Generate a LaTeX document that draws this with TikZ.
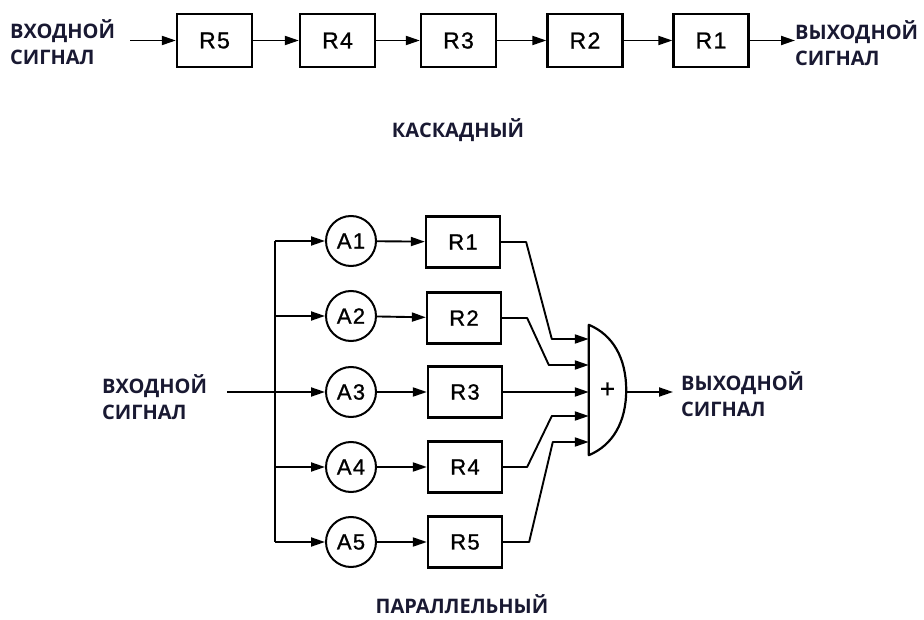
\documentclass[tikz,border=0pt]{standalone}
\usepackage{fontspec}
\setmainfont{Open Sans}
\newfontfamily\labfont[LetterSpace=6,FakeBold=1]{Liberation Sans}
\usetikzlibrary{arrows.meta,calc}
\definecolor{txt}{RGB}{25,25,50}
\begin{document}
\begin{tikzpicture}[x=1pt,y=-1pt,
  sig/.style={font=\bfseries\fontsize{20}{25.5}\selectfont, text=txt, align=left, inner sep=0pt},
  ttl/.style={font=\bfseries\fontsize{20}{24}\selectfont, text=txt, inner sep=0pt},
  blk/.style={draw, line width=2.3pt, minimum width=75pt, minimum height=53pt, inner sep=0pt, font=\labfont\fontsize{23}{23}\selectfont},
  blkb/.style={draw, line width=2.3pt, minimum width=74pt, minimum height=51pt, inner sep=0pt, font=\labfont\fontsize{22}{22}\selectfont},
  amp/.style={draw, circle, line width=2pt, minimum size=50pt, inner sep=0pt, font=\labfont\fontsize{22}{22}\selectfont},
  arr/.style={line width=1.9pt, line join=round, -{Triangle[length=14pt,width=9pt]}},
  ln/.style={line width=2pt}]
\useasboundingbox (0,0) rectangle (924,620);
% cascade
\node[sig, anchor=west] (inT) at (10,42) {ВХОДНОЙ\\СИГНАЛ};
\coordinate (inTs) at (130,40.5);
\node[blk] (c5) at (214.5,40.5) {R5};
\node[blk] (c4) at (337.5,40.5) {R4};
\node[blk] (c3) at (458.5,40.5) {R3};
\node[blk] (c2) at (585,40.5) {R2};
\node[blk] (c1) at (711,40.5) {R1};
\node[sig, anchor=west] (outT) at (795,43) {ВЫХОДНОЙ\\СИГНАЛ};
\draw[arr] (inTs) -- (c5.west);
\draw[arr] (c5) -- (c4);
\draw[arr] (c4) -- (c3);
\draw[arr] (c3) -- (c2);
\draw[arr] (c2) -- (c1);
\draw[arr] (c1.east) -- (c1.east -| outT.west);
\node[ttl] (cas) at (458,130) {КАСКАДНЫЙ};
% parallel
\node[sig, anchor=west] (inB) at (102,397) {ВХОДНОЙ\\СИГНАЛ};
\coordinate (inBs) at (227,392);
\coordinate (busT) at (275,241);
\coordinate (busB) at (275,542);
\node[amp] (a1) at (351,241) {A1};
\node[amp] (a2) at (351,316) {A2};
\node[amp] (a3) at (351,392) {A3};
\node[amp] (a4) at (351,467) {A4};
\node[amp] (a5) at (351,542) {A5};
\node[blkb] (p1) at (463,242) {R1};
\node[blkb] (p2) at (464,318) {R2};
\node[blkb] (p3) at (465,392) {R3};
\node[blkb] (p4) at (465,467) {R4};
\node[blkb] (p5) at (465,542) {R5};
\node[minimum width=37pt, minimum height=130pt, inner sep=0pt, font=\labfont\fontsize{26}{26}\selectfont] (sum) at (607.5,390) {+};
\draw[line width=2.2pt, line join=round] (sum.north west) .. controls ($(sum.north west)+(24,10)$) and ($(sum.east)+(0,-32)$) .. (sum.east) .. controls ($(sum.east)+(0,32)$) and ($(sum.south west)+(24,-10)$) .. (sum.south west) -- cycle;
\coordinate (s1) at ($(sum.west)+(0,-51)$);
\coordinate (s2) at ($(sum.west)+(0,-25)$);
\coordinate (s3) at ($(sum.west)+(0,2)$);
\coordinate (s4) at ($(sum.west)+(0,26)$);
\coordinate (s5) at ($(sum.west)+(0,52)$);
\node[sig, anchor=west] (outB) at (681,394) {ВЫХОДНОЙ\\СИГНАЛ};
\coordinate (outBs) at (673,392);
\draw[ln] (busT) -- (busB);
\draw[arr] (inBs) -- (a3);
\foreach \i in {1,2,4,5} {\draw[arr] (a\i -| busT) -- (a\i);}
\foreach \i in {1,...,5} {\draw[arr] (a\i) -- (p\i);}
\draw[arr] (p1.east) -- ++(25,0) -- ($(s1)+(-37,0)$) -- (s1);
\draw[arr] (p2.east) -- ++(25,0) -- ($(s2)+(-40,0)$) -- (s2);
\draw[arr] (p3.east) -- (s3);
\draw[arr] (p4.east) -- ++(24,0) -- ($(s4)+(-37,0)$) -- (s4);
\draw[arr] (p5.east) -- ++(26,0) -- ($(s5)+(-36,0)$) -- (s5);
\draw[arr] (sum.east |- s3) -- (outBs);
\node[ttl] (par) at (462,604) {ПАРАЛЛЕЛЬНЫЙ};
\end{tikzpicture}
\end{document}
